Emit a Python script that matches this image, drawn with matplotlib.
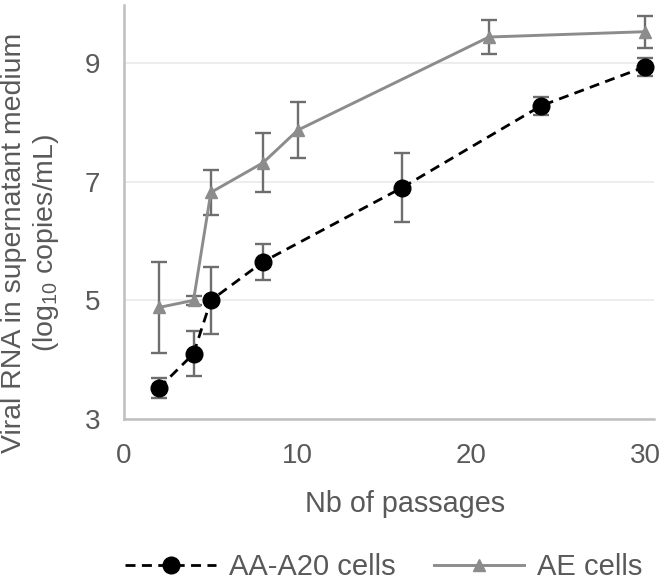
import matplotlib
matplotlib.use("Agg")
import matplotlib.pyplot as plt

plt.rcParams['font.family'] = ['Liberation Sans', 'DejaVu Sans']
plt.rcParams['mathtext.fontset'] = 'custom'
plt.rcParams['mathtext.rm'] = 'Liberation Sans'
plt.rcParams['mathtext.it'] = 'Liberation Sans'

# Data
aa_x = [2, 4, 5, 8, 16, 24, 30]
aa_y = [3.52, 4.10, 5.00, 5.65, 6.90, 8.28, 8.94]
aa_err = [0.17, 0.38, 0.56, 0.30, 0.58, 0.15, 0.15]

ae_x = [2, 4, 5, 8, 10, 21, 30]
ae_y = [4.88, 5.00, 6.82, 7.32, 7.87, 9.44, 9.53]
ae_err = [0.76, 0.08, 0.38, 0.50, 0.47, 0.28, 0.27]

x_ticks = [0, 10, 20, 30]
y_ticks = [3, 5, 7, 9]

series_names = ["AA-A20 cells", "AE cells"]

TXT = '#595959'
W, H = 666, 585
fig = plt.figure(figsize=(W / 100, H / 100), dpi=100)
ax = fig.add_axes([124 / W, 1 - 419 / H, 530 / W, 414 / H])

# error bars
ax.errorbar(ae_x, ae_y, yerr=ae_err, fmt='none', ecolor='#6e6e6e',
            elinewidth=1.7, capsize=6, capthick=1.7, zorder=2)
ax.errorbar(aa_x, aa_y, yerr=aa_err, fmt='none', ecolor='#6e6e6e',
            elinewidth=1.7, capsize=6, capthick=1.7, zorder=2)

ae_line, = ax.plot(ae_x, ae_y, color='#8c8c8c', lw=2.1, marker='^',
                   markersize=8.5, markerfacecolor='#8c8c8c',
                   markeredgecolor='#8c8c8c', zorder=3, label=series_names[1])
aa_line, = ax.plot(aa_x, aa_y, color='black', lw=2.0, ls=(0, (3.6, 2.3)),
                   marker='o', markersize=12, markerfacecolor='black',
                   markeredgecolor='black', zorder=4, label=series_names[0])

ax.set_xlim(0, 30.5)
ax.set_ylim(3, 9.98)
ax.set_xticks(x_ticks)
ax.set_yticks(y_ticks)
ax.tick_params(axis='both', length=0, labelsize=20, labelcolor=TXT)
ax.tick_params(axis='y', pad=17)
ax.tick_params(axis='x', pad=17)

ax.grid(axis='y', color='#ececec', lw=1.3, zorder=0)
ax.set_axisbelow(True)
for s in ['top', 'right']:
    ax.spines[s].set_visible(False)
for s in ['left', 'bottom']:
    ax.spines[s].set_color('#bfbfbf')
    ax.spines[s].set_linewidth(1.8)

fig.text(405 / W, 1 - 512 / H, "Nb of passages", ha='center', va='baseline',
         fontsize=20.7, color=TXT)
fig.text(31 / W, 1 - 243 / H,
         "Viral RNA in supernatant medium\n(log$_{10}$ copies/mL)",
         ha='center', va='center', rotation=90, multialignment='center',
         fontsize=20.5, color=TXT, linespacing=1.15)

fig.legend(handles=[aa_line, ae_line], loc='center',
           bbox_to_anchor=(384 / W, 1 - 567 / H), ncol=2, frameon=False,
           fontsize=21, handlelength=3.1, handletextpad=0.45,
           columnspacing=1.3, labelcolor=TXT)

fig.savefig("out.png", dpi=100)
